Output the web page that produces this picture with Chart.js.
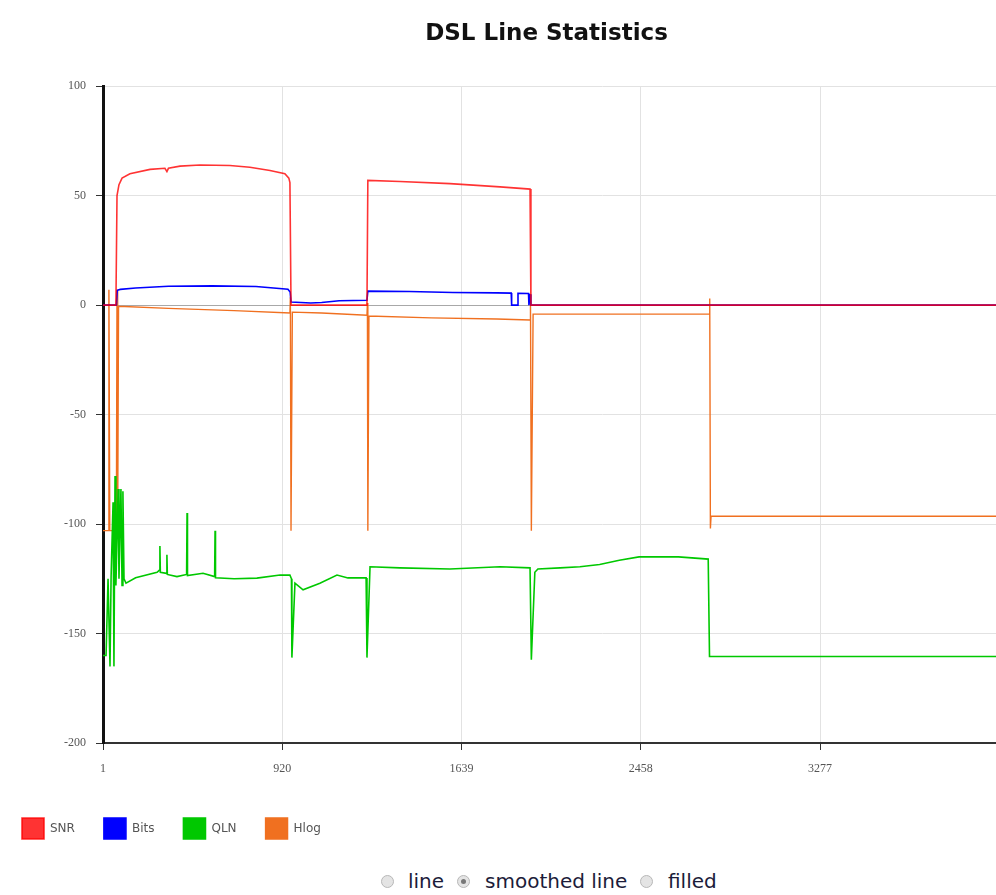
<!DOCTYPE html>
<html>
<head>
<meta charset="utf-8">
<script src="https://cdn.jsdelivr.net/npm/chart.js@4/dist/chart.umd.min.js"></script>
<style>
  html, body { margin: 0; padding: 0; background: #fff; overflow: hidden; }
  #wrap { position: absolute; left: 0; top: 0; width: 1100px; height: 849px; }
  .mode { position: absolute; top: 867px; font-family: "DejaVu Sans", Verdana, sans-serif;
          font-size: 20px; line-height: 28px; color: #1c1c3a; white-space: nowrap; }
  .rb { position: absolute; top: 875px; width: 11px; height: 11px; border-radius: 50%; border: 1px solid #b8b8b8;
        background: #e4e4e4; }
  .rb.on::after { content: ""; position: absolute; left: 3px; top: 3px; width: 5px; height: 5px;
                  border-radius: 50%; background: #777; }
</style>
</head>
<body>
<div id="wrap"><canvas id="dsl"></canvas></div>
<span class="rb" style="left:381px"></span><span class="mode" style="left:408px">line</span>
<span class="rb on" style="left:457px"></span><span class="mode" style="left:485px">smoothed line</span>
<span class="rb" style="left:640px"></span><span class="mode" style="left:668px">filled</span>
<script>
// tick positions on the tone axis and the labels shown under them
var tickVals = [1, 820, 1639, 2458, 3277];
var tickLabels = ["1", "920", "1639", "2458", "3277"];

// SNR (dB)
var snrX = [1, 60, 65, 74, 88, 124, 216, 284, 293, 300, 353, 444, 581, 672, 764, 832, 850, 855, 860, 1207, 1211, 1358, 1586, 1815, 1952, 1956, 4096];
var snrY = [0, 0, 50, 55, 58, 60, 62, 62.5, 61, 62.5, 63.5, 64, 63.8, 63, 61.5, 60, 58, 56, 0, 0, 57, 56.5, 55.5, 54, 53, 0, 0];

// Bits per tone
var bitsX = [1, 62, 66, 80, 150, 300, 500, 700, 846, 856, 860, 950, 1000, 1080, 1207, 1211, 1400, 1600, 1800, 1866, 1868, 1895, 1897, 1945, 1947, 1952, 1956, 4096];
var bitsY = [0, 0, 6.8, 7.2, 7.8, 8.6, 8.8, 8.5, 7.3, 6, 1.4, 1, 1.2, 2, 2.2, 6.4, 6.2, 5.8, 5.6, 5.5, 0, 0, 5.4, 5.3, 0, 5, 0, 0];

// QLN (dBm/Hz)
var qlnX = [1, 15, 24, 33, 38, 47, 51, 56, 60, 70, 74, 83, 88, 92, 97, 106, 150, 248, 259, 261, 263, 291, 293, 295, 339, 383, 385, 387, 458, 511,
            513, 515, 600, 704, 810, 855, 862, 864, 878, 915, 992, 1070, 1120, 1203, 1207, 1221, 1358, 1586, 1815, 1952,
            1958, 1974, 1988, 2089, 2180, 2270, 2360, 2450, 2630, 2766, 2772, 4096];
var qlnY = [-160, -160, -125, -165, -124, -90, -165, -78, -128, -84, -125, -84, -128, -85, -125, -127, -124.5, -122, -121, -110, -122, -122.5, -114, -123, -124, -123, -95, -123.5, -122.5, -124,
            -103, -124.5, -125, -124.7, -123.3, -123.3, -125, -161, -127, -130, -127, -123.3, -124.6, -124.6, -161, -119.5, -120, -120.5, -119.5, -120,
            -162, -122, -120.5, -120, -119.5, -118.5, -116.5, -115, -115, -116, -160.5, -160.5];

// Hlog (dB)
var hlogX = [1, 24, 28, 32, 62, 65, 68, 72, 300, 600, 855, 857, 860, 866, 1000, 1207, 1209, 1211, 1216, 1500, 1800,
             1952, 1954, 1958, 1966, 2400, 2770, 2773, 2776, 2779, 4096];
var hlogY = [-103, -103, 7, -103, -103, 7, -103, -0.5, -1.5, -2.5, -3.6, 3.6, -103, -3.2, -3.6, -4.6, 1, -103, -5, -5.8, -6.3,
             -6.8, 2, -103, -4.1, -4.1, -4.1, 3, -102, -96.4, -96.4];

function pts(xs, ys) {
  return xs.map(function (x, i) { return { x: x, y: ys[i] }; });
}

function series(label, xs, ys, color, width) {
  return {
    label: label,
    data: pts(xs, ys),
    borderColor: color,
    backgroundColor: color,
    borderWidth: width,
    pointRadius: 0,
    tension: 0,
    fill: false
  };
}

var tickFont = { family: "'Liberation Serif', serif", size: 12 };

new Chart(document.getElementById("dsl"), {
  type: "line",
  data: {
    datasets: [
      series("SNR", snrX, snrY, "rgba(255,0,0,0.8)", 1.6),
      series("Bits", bitsX, bitsY, "#0000ff", 1.6),
      series("QLN", qlnX, qlnY, "#00c800", 1.6),
      series("Hlog", hlogX, hlogY, "#f07020", 1.4)
    ]
  },
  options: {
    responsive: true,
    maintainAspectRatio: false,
    animation: false,
    events: [],
    layout: { padding: { left: -7, top: 0, right: 0, bottom: 0 } },
    plugins: {
      title: {
        display: true,
        text: "DSL Line Statistics",
        color: "#111",
        font: { family: "'DejaVu Sans', Verdana, sans-serif", size: 23, weight: "bold" },
        padding: { top: 20, bottom: 38.6 }
      },
      legend: {
        position: "bottom",
        align: "start",
        labels: {
          boxWidth: 22,
          boxHeight: 21,
          padding: 29,
          color: "#555",
          font: { family: "'DejaVu Sans', Verdana, sans-serif", size: 12 }
        }
      },
      tooltip: { enabled: false }
    },
    scales: {
      x: {
        type: "linear",
        min: 1,
        max: 4556,
        afterBuildTicks: function (s) { s.ticks = tickVals.map(function (v) { return { value: v }; }); },
        afterFit: function (s) { s.height = 46; },
        ticks: {
          color: "#555",
          font: tickFont,
          padding: 12,
          maxRotation: 0,
          callback: function (v) { var i = tickVals.indexOf(v); return i < 0 ? "" : tickLabels[i]; }
        },
        grid: { color: "#e2e2e2", tickColor: "#333", tickLength: 7 },
        border: { color: "#333", width: 2 }
      },
      y: {
        min: -200,
        max: 100,
        afterFit: function (s) { s.width = 110; },
        ticks: { stepSize: 50, color: "#555", font: tickFont, padding: 10 },
        grid: {
          color: function (c) { return c.tick && c.tick.value === 0 ? "#a8a8a8" : "#e2e2e2"; },
          tickColor: "#333",
          tickLength: 7
        },
        border: { color: "#111", width: 3 }
      }
    }
  }
});
</script>
</body>
</html>
